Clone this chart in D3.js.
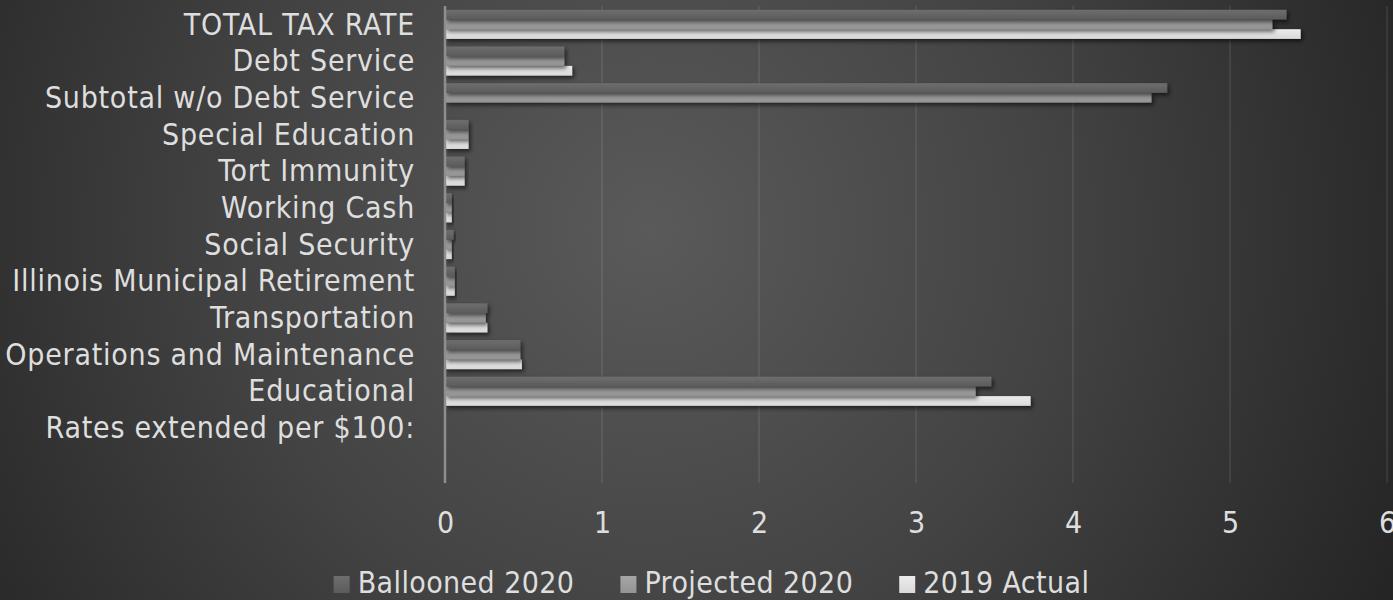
<!DOCTYPE html>
<html>
<head>
<meta charset="utf-8">
<script src="https://cdn.jsdelivr.net/npm/d3@7"></script>
<style>
  html, body { margin: 0; padding: 0; background: #2a2a2a; }
  svg { display: block; }
  text { font-family: "DejaVu Sans Condensed", "DejaVu Sans", sans-serif; font-stretch: condensed; fill: #dedede; }
</style>
</head>
<body>
<svg id="chart" width="1393" height="600"></svg>
<script>
// Categories listed top to bottom; the last row is an empty spacer category.
const categories = [
  "TOTAL TAX RATE",
  "Debt Service",
  "Subtotal w/o Debt Service",
  "Special Education",
  "Tort Immunity",
  "Working Cash",
  "Social Security",
  "Illinois Municipal Retirement",
  "Transportation",
  "Operations and Maintenance",
  "Educational",
  "Rates extended per $100:",
  ""
];

const seriesNames = ["Ballooned 2020", "Projected 2020", "2019 Actual"];

const ballooned2020 = [5.36, 0.76, 4.60, 0.15, 0.125, 0.043, 0.055, 0.062, 0.27, 0.48, 3.48, null, null];
const projected2020 = [5.27, 0.76, 4.50, 0.15, 0.125, 0.043, 0.043, 0.062, 0.26, 0.48, 3.38, null, null];
const actual2019    = [5.45, 0.81, null, 0.15, 0.125, 0.043, 0.043, 0.062, 0.27, 0.49, 3.73, null, null];

const xTicks = [0, 1, 2, 3, 4, 5, 6];

const seriesValues = [ballooned2020, projected2020, actual2019];

const W = 1393, H = 600;
const svg = d3.select("#chart");
const defs = svg.append("defs");

// Background: soft radial vignette
const bg = defs.append("radialGradient")
  .attr("id", "bg").attr("gradientUnits", "userSpaceOnUse")
  .attr("cx", 650).attr("cy", 230).attr("r", 820);
bg.append("stop").attr("offset", 0).attr("stop-color", "#5a5a5a");
bg.append("stop").attr("offset", 0.5).attr("stop-color", "#434343");
bg.append("stop").attr("offset", 1).attr("stop-color", "#252525");
svg.append("rect").attr("width", W).attr("height", H).attr("fill", "url(#bg)");

// Bar fills (slight top-to-bottom shading)
const fills = [
  ["#6e6e6e", "#5b5b5b"],
  ["#a6a6a6", "#939393"],
  ["#ececec", "#d9d9d9"]
];
fills.forEach((f, i) => {
  const g = defs.append("linearGradient").attr("id", "bar" + i)
    .attr("x1", 0).attr("y1", 0).attr("x2", 0).attr("y2", 1);
  g.append("stop").attr("offset", 0).attr("stop-color", f[0]);
  g.append("stop").attr("offset", 1).attr("stop-color", f[1]);
});

const shadow = defs.append("filter").attr("id", "shadow")
  .attr("x", "-10%").attr("y", "-50%").attr("width", "130%").attr("height", "250%");
shadow.append("feDropShadow").attr("dx", 2).attr("dy", 2.5).attr("stdDeviation", 2.2)
  .attr("flood-color", "#000").attr("flood-opacity", 0.6);

const x = d3.scaleLinear().domain([0, 6]).range([445, 1387]);
const y = d3.scaleBand().domain(categories).range([6, 483])
  .paddingInner(0.207).paddingOuter(0.1035);
const ySub = d3.scaleBand().domain(d3.range(seriesNames.length)).range([0, y.bandwidth()]);

// Vertical gridlines
svg.append("g")
  .selectAll("line")
  .data(xTicks.filter(t => t > 0))
  .join("line")
  .attr("x1", d => x(d)).attr("x2", d => x(d))
  .attr("y1", 6).attr("y2", 483)
  .attr("stroke", "rgba(255,255,255,0.1)").attr("stroke-width", 1.5);

// Bars: lower series drawn first so shadows of upper bars fall onto them
const barsG = svg.append("g");
for (let s = seriesNames.length - 1; s >= 0; s--) {
  barsG.append("g")
    .selectAll("rect")
    .data(categories.map((c, i) => ({ c, v: seriesValues[s][i] })).filter(d => d.v != null))
    .join("rect")
    .attr("x", x(0))
    .attr("y", d => y(d.c) + ySub(s))
    .attr("width", d => x(d.v) - x(0))
    .attr("height", ySub.bandwidth())
    .attr("fill", "url(#bar" + s + ")")
    .attr("filter", "url(#shadow)");
}

// Category axis line
svg.append("line")
  .attr("x1", x(0)).attr("x2", x(0)).attr("y1", 6).attr("y2", 483)
  .attr("stroke", "#8e8e8e").attr("stroke-width", 2.5);

// Category labels
svg.append("g")
  .selectAll("text")
  .data(categories)
  .join("text")
  .attr("x", 415)
  .attr("y", d => y(d) + y.bandwidth() / 2)
  .attr("dy", "0.34em")
  .attr("text-anchor", "end")
  .attr("font-size", 30)
  .attr("letter-spacing", 0.75)
  .text(d => d);

// Value axis labels
const xAxis = d3.axisBottom(x).tickValues(xTicks).tickSize(0).tickPadding(0).tickFormat(d3.format("d"));
const xg = svg.append("g").attr("transform", "translate(0,533)").call(xAxis);
xg.select(".domain").remove();
xg.selectAll("text").attr("font-size", 30).attr("dy", 0).attr("fill", "#dedede")
  .attr("font-family", "\"DejaVu Sans Condensed\", \"DejaVu Sans\", sans-serif");

// Legend
const legend = svg.append("g");
const items = legend.selectAll("g").data(seriesNames).join("g");
items.append("rect")
  .attr("width", 16).attr("height", 17).attr("y", -17)
  .attr("fill", (d, i) => "url(#bar" + i + ")");
items.append("text")
  .attr("x", 24).attr("y", 0)
  .attr("font-size", 30)
  .attr("letter-spacing", 0.4)
  .text(d => d);
const widths = [];
items.each(function () {
  widths.push(24 + d3.select(this).select("text").node().getComputedTextLength());
});
const gap = 46;
const total = d3.sum(widths) + gap * (widths.length - 1);
let lx = 711.5 - total / 2;
items.attr("transform", (d, i) => {
  const t = "translate(" + lx + ",593)";
  lx += widths[i] + gap;
  return t;
});
</script>
</body>
</html>
